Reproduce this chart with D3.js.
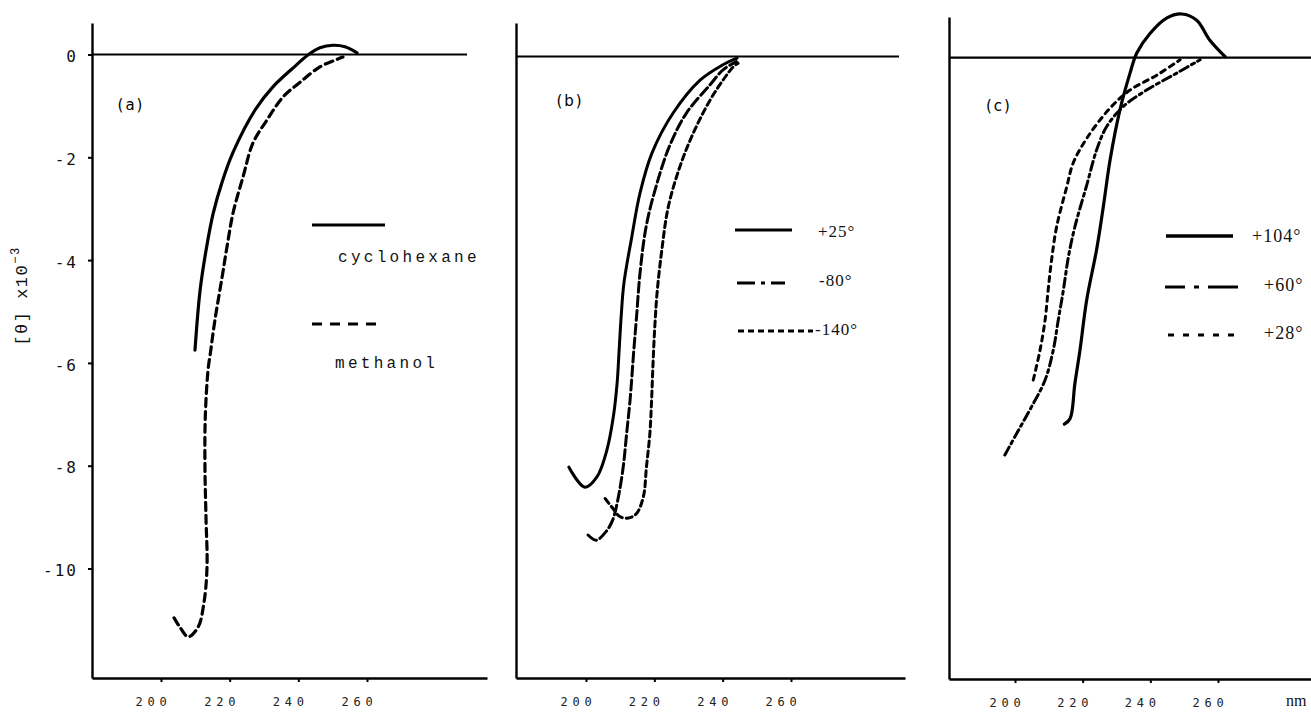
<!DOCTYPE html>
<html>
<head>
<meta charset="utf-8">
<script src="https://cdn.jsdelivr.net/npm/d3@7"></script>
<style>
html,body{margin:0;padding:0;background:#fff;}
svg{display:block;}
.tick text{font-family:"DejaVu Sans Mono",monospace;}
</style>
</head>
<body>
<svg id="chart" width="1311" height="712"></svg>
<script>
// ---------------- DATA ----------------
const xTicks = [200, 220, 240, 260];
const yTicks = [0, -2, -4, -6, -8, -10];
const panelLabels = ["(a)", "(b)", "(c)"];

// Panel (a)
const seriesA = ["cyclohexane", "methanol"];
const wlCyclohexane = [209.9, 211.4, 213.3, 215.2, 217.8, 221.0, 227.4, 232.6, 238.5, 242.8, 246.3, 250.1, 253.6, 257.1];
const thCyclohexane = [-5.75, -4.58, -3.74, -3.09, -2.48, -1.90, -1.08, -0.63, -0.26, -0.01, 0.13, 0.18, 0.15, 0.03];
const wlMethanol = [203.8, 205.5, 207.9, 210.8, 212.5, 213.4, 213.1, 212.8, 212.9, 213.7, 214.4, 215.7, 217.8, 219.2, 221.0, 223.9, 226.8, 230.9, 235.5, 240.5, 246.3, 250.7, 253.0];
const thMethanol = [-10.96, -11.14, -11.33, -11.14, -10.67, -9.97, -9.00, -8.03, -7.05, -6.14, -5.80, -5.17, -4.33, -3.75, -3.08, -2.38, -1.72, -1.27, -0.83, -0.54, -0.24, -0.11, -0.05];

// Panel (b)
const seriesB = ["+25°", "-80°", "-140°"];
const wlP25 = [195.0, 199.7, 203.2, 206.1, 208.0, 209.1, 209.7, 210.3, 211.1, 213.4, 215.8, 219.3, 225.5, 233.4, 240.1, 244.2];
const thP25 = [-7.99, -8.38, -8.18, -7.66, -7.01, -6.36, -5.71, -5.05, -4.41, -3.51, -2.66, -1.88, -1.10, -0.46, -0.16, -0.03];
const wlM80 = [200.6, 203.0, 205.9, 207.8, 209.3, 210.9, 211.9, 212.9, 214.0, 214.8, 215.8, 217.6, 220.5, 224.4, 229.3, 236.3, 240.1, 244.0];
const thM80 = [-9.31, -9.41, -9.24, -9.02, -8.63, -7.98, -7.33, -6.68, -5.71, -5.06, -4.22, -3.31, -2.53, -1.75, -1.11, -0.55, -0.26, -0.10];
const wlM140 = [205.6, 207.5, 209.9, 212.4, 214.8, 216.8, 217.7, 218.7, 219.2, 219.6, 220.1, 220.8, 222.2, 224.1, 227.5, 231.4, 236.3, 240.1, 243.1, 244.5];
const thM140 = [-8.60, -8.76, -8.95, -8.98, -8.89, -8.56, -7.98, -7.33, -6.68, -6.00, -5.30, -4.60, -3.76, -2.92, -2.14, -1.49, -0.85, -0.46, -0.20, -0.13];

// Panel (c)
const seriesC = ["+104°", "+60°", "+28°"];
const wlP104 = [214.6, 216.3, 217.7, 219.2, 221.2, 224.1, 226.1, 228.1, 231.0, 234.0, 236.0, 239.9, 244.8, 249.3, 253.7, 257.6, 262.1];
const thP104 = [-7.13, -7.02, -6.34, -5.69, -4.71, -3.74, -2.90, -1.99, -1.02, -0.30, 0.09, 0.47, 0.77, 0.85, 0.73, 0.34, 0.02];
const wlP60 = [197.0, 200.5, 204.4, 208.9, 211.3, 212.8, 214.3, 215.8, 217.7, 221.2, 224.1, 227.1, 232.0, 238.9, 247.8, 254.7];
const thP60 = [-7.73, -7.31, -6.85, -6.27, -5.69, -5.10, -4.52, -3.87, -3.29, -2.48, -1.80, -1.34, -0.95, -0.63, -0.30, -0.04];
const wlP28 = [205.4, 207.4, 208.9, 209.8, 210.8, 212.3, 215.3, 217.2, 221.2, 228.1, 234.0, 241.9, 248.8];
const thP28 = [-6.27, -5.69, -5.10, -4.52, -3.94, -3.29, -2.51, -2.05, -1.57, -0.98, -0.63, -0.34, -0.04];

// ---------------- LAYOUT ----------------
const unitPx = 51.4;
const panels = [
  {label: panelLabels[0], x200: 161, x260: 367, axisX: 92, top: 23, bottom: 678, y0: 54.5, zeroEnd: 467, bottomEnd: 487, yLabels: true, labelPos: [131, 105]},
  {label: panelLabels[1], x200: 586, x260: 791, axisX: 516, top: 23, bottom: 678, y0: 56.5, zeroEnd: 899, bottomEnd: 905, yLabels: false, labelPos: [570, 101]},
  {label: panelLabels[2], x200: 1015, x260: 1218, axisX: 949, top: 17, bottom: 679, y0: 57.7, zeroEnd: 1311, bottomEnd: 1311, yLabels: false, labelPos: [999, 106]}
];

const svg = d3.select("#chart");

function zip(a, b) { return a.map((v, i) => [v, b[i]]); }

const panelSeries = [
  [
    {name: seriesA[0], data: zip(wlCyclohexane, thCyclohexane), width: 3.2, dash: null},
    {name: seriesA[1], data: zip(wlMethanol, thMethanol), width: 3.2, dash: "8,5"}
  ],
  [
    {name: seriesB[0], data: zip(wlP25, thP25), width: 3, dash: null},
    {name: seriesB[1], data: zip(wlM80, thM80), width: 3, dash: "10,4"},
    {name: seriesB[2], data: zip(wlM140, thM140), width: 3, dash: "6,4"}
  ],
  [
    {name: seriesC[0], data: zip(wlP104, thP104), width: 3.2, dash: null},
    {name: seriesC[1], data: zip(wlP60, thP60), width: 3, dash: "9,4,3,4"},
    {name: seriesC[2], data: zip(wlP28, thP28), width: 3, dash: "5,5"}
  ]
];

panels.forEach((p, i) => {
  const base = d3.scaleLinear().domain([200, 260]).range([p.x200, p.x260]);
  const x = d3.scaleLinear().domain([base.invert(p.axisX), base.invert(p.bottomEnd)]).range([p.axisX, p.bottomEnd]);
  const yb = d3.scaleLinear().domain([0, -1]).range([p.y0, p.y0 + unitPx]);
  const y = d3.scaleLinear().domain([yb.invert(p.top), yb.invert(p.bottom)]).range([p.top, p.bottom]);

  const g = svg.append("g");

  // bottom axis
  const xa = g.append("g").attr("transform", `translate(0,${p.bottom})`)
    .call(d3.axisBottom(x).tickValues(xTicks).tickSize(4).tickSizeOuter(0).tickPadding(14).tickFormat(d3.format("d")));
  xa.select(".domain").attr("stroke", "#000").attr("stroke-width", 2.6);
  xa.selectAll(".tick line").attr("stroke", "#000").attr("stroke-width", 2);
  xa.selectAll(".tick text").attr("font-size", 12).attr("letter-spacing", "4.8px").attr("fill", "#222").attr("dx", -8).attr("dy", "0.85em");

  // left axis
  const ya = g.append("g").attr("transform", `translate(${p.axisX},0)`)
    .call(d3.axisLeft(y).tickValues(p.yLabels ? yTicks : []).tickSize(4).tickSizeOuter(0).tickPadding(10).tickFormat(d => d === 0 ? "0" : "-" + Math.abs(d)));
  ya.select(".domain").attr("stroke", "#000").attr("stroke-width", 2.4);
  ya.selectAll(".tick line").attr("stroke", "#000").attr("stroke-width", 2);
  ya.selectAll(".tick text").attr("font-family", "'Liberation Mono', monospace").attr("font-size", 16).attr("fill", "#111").attr("dy", "0.45em").attr("letter-spacing", "2px");

  // zero line
  g.append("line")
    .attr("x1", p.axisX).attr("x2", p.zeroEnd)
    .attr("y1", y(0)).attr("y2", y(0))
    .attr("stroke", "#000").attr("stroke-width", 2.2);

  // panel label
  g.append("text").attr("x", p.labelPos[0]).attr("y", p.labelPos[1])
    .attr("text-anchor", "middle").attr("dominant-baseline", "middle")
    .attr("font-family", "'DejaVu Sans', sans-serif").attr("font-size", 15)
    .attr("letter-spacing", "2px").attr("fill", "#000").text(p.label);

  // curves
  const line = d3.line().x(d => x(d[0])).y(d => y(d[1])).curve(d3.curveCatmullRom.alpha(0.5));
  panelSeries[i].forEach(s => {
    g.append("path").datum(s.data)
      .attr("d", line)
      .attr("fill", "none").attr("stroke", "#000")
      .attr("stroke-width", s.width)
      .attr("stroke-linecap", "round").attr("stroke-linejoin", "round")
      .attr("stroke-dasharray", s.dash);
  });
});

// y axis title
const yt = svg.append("text")
  .attr("transform", "translate(27,296) rotate(-90)")
  .attr("text-anchor", "middle")
  .attr("font-family", "'Liberation Mono', monospace").attr("font-size", 17)
  .attr("letter-spacing", "1.5px").attr("fill", "#111");
yt.append("tspan").text("[θ] x10");
yt.append("tspan").attr("dy", -8).attr("font-size", 12).text("−3");

// ---------------- LEGENDS ----------------
function legendLine(x1, x2, yy, dash, w) {
  svg.append("line").attr("x1", x1).attr("x2", x2).attr("y1", yy).attr("y2", yy)
    .attr("stroke", "#000").attr("stroke-width", w).attr("stroke-dasharray", dash);
}
function legendText(xx, yy, txt, fam, size, ls) {
  svg.append("text").attr("x", xx).attr("y", yy).attr("dominant-baseline", "middle")
    .attr("font-family", fam).attr("font-size", size).attr("letter-spacing", ls).attr("fill", "#111").text(txt);
}
const mono = "'Liberation Mono', monospace";
const serif = "'Liberation Serif', serif";

// (a)
legendLine(312, 385, 225, null, 3.2);
legendText(338, 258, seriesA[0], mono, 16, "3.3px");
legendLine(312, 382, 324, "10,8", 3.2);
legendText(335, 364, seriesA[1], mono, 16, "3.3px");

// (b)
legendLine(735, 792, 230, null, 3.2);
legendText(818, 233, seriesB[0], serif, 17, "1px");
legendLine(737, 797, 283, "18,6,4,6,14", 3.2);
legendText(819, 282, seriesB[1], serif, 17, "1px");
legendLine(738, 813, 331, "6,4", 2.8);
legendText(815, 331, seriesB[2], serif, 17, "1px");

// (c)
legendLine(1166, 1233, 236, null, 3.4);
legendText(1252, 238, seriesC[0], serif, 18, "1px");
legendLine(1165, 1242, 287, "20,9,5,9,30", 3.2);
legendText(1264, 287, seriesC[1], serif, 18, "1px");
legendLine(1168, 1240, 335, "6,9", 3.2);
legendText(1264, 335, seriesC[2], serif, 18, "1px");

// unit label
svg.append("text").attr("x", 1286).attr("y", 702).attr("dominant-baseline", "middle")
  .attr("font-family", serif).attr("font-size", 16).attr("fill", "#111").text("nm");
</script>
</body>
</html>
